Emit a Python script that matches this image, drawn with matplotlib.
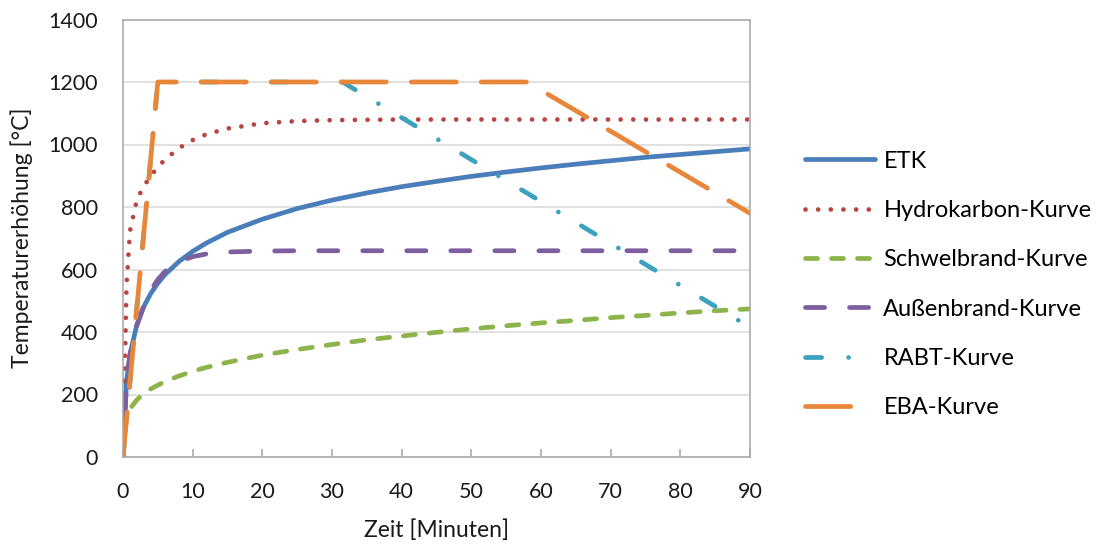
import numpy as np
import matplotlib
matplotlib.use('Agg')
import matplotlib.pyplot as plt

# Time grid (minutes) and curve values
t_curve = [0, 0.5, 1, 2, 3, 4, 5, 6, 8, 10, 12, 15, 20, 25, 30, 35, 40, 45,
           50, 55, 60, 65, 70, 75, 80, 85, 90]
etk = [0, 241, 329, 424, 482, 524, 556, 583, 625, 658, 685, 719, 761, 795, 822,
       845, 865, 882, 898, 912, 925, 937, 948, 959, 968, 977, 986]
hydro = [0, 548, 723, 824, 867, 900, 928, 951, 988, 1014, 1033, 1051, 1068,
         1075, 1078, 1079, 1080, 1080, 1080, 1080, 1080, 1080, 1080, 1080, 1080,
         1080, 1080]
schwel = [0, 130, 154, 183, 203, 218, 230, 241, 259, 274, 287, 303, 326, 344,
          360, 375, 387, 399, 410, 420, 429, 437, 446, 453, 461, 468, 474]
aussen = [0, 243, 326, 421, 486, 534, 568, 593, 625, 641, 650, 656, 659, 660,
          660, 660, 660, 660, 660, 660, 660, 660, 660, 660, 660, 660, 660]

t_rabt = [0, 5, 31.5, 90]
rabt = [0, 1200, 1200, 415]
t_eba = [0, 5, 58, 90]
eba = [0, 1200, 1200, 780]

labels = ['ETK', 'Hydrokarbon-Kurve', 'Schwelbrand-Kurve', 'Außenbrand-Kurve',
          'RABT-Kurve', 'EBA-Kurve']

plt.rcParams['font.family'] = ['Lato', 'DejaVu Sans']
plt.rcParams['lines.scale_dashes'] = False

fig = plt.figure(figsize=(10.98, 5.47), dpi=100)
ax = fig.add_axes([123 / 1098, 90 / 547, 627 / 1098, 437.5 / 547])

lw = 3.4
common = dict(lw=lw, solid_capstyle='round', dash_capstyle='round')
ax.plot(t_curve, etk, color='#4A7EBB', label=labels[0], **common)
ax.plot(t_curve, hydro, color='#B84441', dashes=(0.01, 9.1), label=labels[1], **common)
ax.plot(t_curve, schwel, color='#8DB44A', dashes=(8.7, 10), label=labels[2], **common)
ax.plot(t_curve, aussen, color='#7D5FA0', dashes=(13.8, 17.9), label=labels[3], **common)
ax.plot(t_rabt, rabt, color='#3DA2BD', dashes=(11.6, 19.4, 0.01, 19.4), label=labels[4], **common)
ax.plot(t_eba, eba, color='#E8873A', dashes=(32.5, 17.9), label=labels[5], **common)

ax.set_xlim(0, 90)
ax.set_ylim(0, 1400)
ax.set_xticks(range(0, 91, 10))
ax.set_yticks(range(0, 1401, 200))
ax.yaxis.grid(True, color='#D9D9D9', lw=1.1)
ax.set_axisbelow(True)
for sp in ax.spines.values():
    sp.set_color('#A6A6A6')
    sp.set_linewidth(1.1)
ax.tick_params(axis='x', direction='in', length=6, width=1.1, color='#A6A6A6',
               pad=18, labelsize=15.5, labelcolor='#1a1a1a')
ax.tick_params(axis='y', length=0, pad=18, labelsize=15.5, labelcolor='#1a1a1a')

ax.set_xlabel('Zeit [Minuten]', fontsize=16.5, color='#1a1a1a')
ax.set_ylabel('Temperaturerhöhung [°C]', fontsize=16.5, color='#1a1a1a')
ax.xaxis.set_label_coords(0.5, -0.167)
ax.yaxis.set_label_coords(-0.161, 0.5)
ax.xaxis.label.set_va('center')
ax.yaxis.label.set_va('center')

fig.legend(loc='center left', bbox_to_anchor=(0.725, 0.48), frameon=False,
           fontsize=17, handlelength=2.95, handletextpad=0.35,
           labelspacing=1.2, borderaxespad=0)

fig.savefig('out.png', dpi=100)
